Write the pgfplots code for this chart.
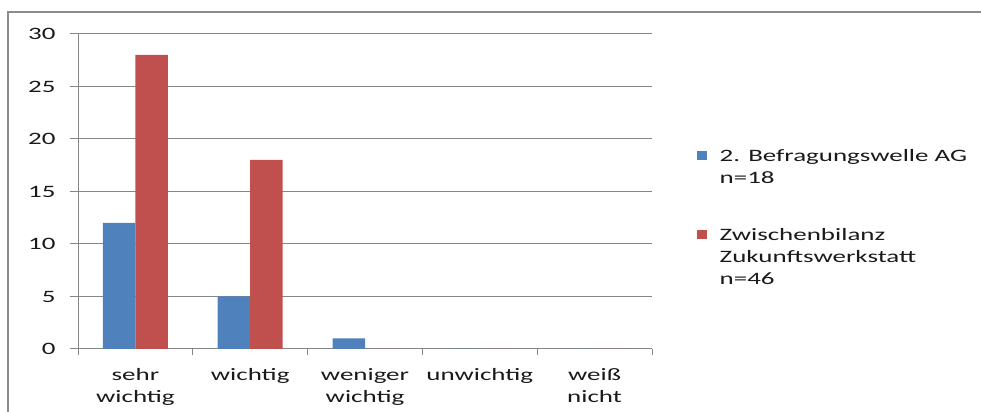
\documentclass[border=0pt]{standalone}
\usepackage{pgfplots}
\pgfplotsset{compat=1.18}
\usepackage{fontspec}
\setmainfont{Carlito}[FakeStretch=1.55]
\newcommand\chartfont{\fontsize{17.4bp}{22bp}\selectfont}
\definecolor{serieblue}{HTML}{4F81BD}
\definecolor{seriered}{HTML}{C0504D}
\definecolor{gridgray}{HTML}{868686}
\definecolor{framegray}{HTML}{8C8C8C}
\definecolor{textcol}{HTML}{1A1A1A}
\begin{document}
\begin{tikzpicture}
\useasboundingbox (0,0) rectangle (981bp,412bp);
% chart area frame (open to the right and bottom)
\draw[framegray, line width=2bp] (8.3bp,-5bp) -- (8.3bp,399.5bp) -- (990bp,399.5bp);
\begin{axis}[
  at={(78bp,63bp)}, anchor=south west,
  scale only axis, width=574bp, height=315bp,
  enlargelimits=false,
  ymin=0, ymax=30, ytick={0,5,...,30},
  xmin=-0.5, xmax=4.5,
  xtick={0,1,2,3,4},
  xticklabels={{sehr\\wichtig},wichtig,{weniger\\wichtig},unwichtig,{weiß\\nicht}},
  minor xtick={-0.5,0.5,...,4.5},
  axis lines*=left,
  axis line style={gridgray, line width=1bp},
  tick style={gridgray, line width=1bp},
  major x tick style={draw=none},
  tick align=outside,
  major tick length=8bp, minor tick length=6bp,
  ymajorgrids, grid style={gridgray, line width=1bp},
  /pgf/number format/assume math mode=true,
  ticklabel style={font=\chartfont, text=textcol},
  yticklabel style={xshift=-11bp},
  xticklabel style={align=center, yshift=-8bp},
  ybar=0pt, bar width=0.283,
  legend image code/.code={\fill[#1] (0bp,1bp) rectangle (9.5bp,10.5bp);},
  legend style={at={(1.0784,0.652)}, anchor=north west, draw=none, fill=none,
    inner sep=0pt, column sep=11bp, row sep=58bp, font=\chartfont,
    text=textcol, cells={anchor=base west}},
]
\addplot[fill=serieblue, draw=none] coordinates {(0,12) (1,5) (2,1) (3,0) (4,0)};
\addlegendentry{\begin{tabular}[t]{@{}l@{}}2. Befragungswelle AG\\n=18\end{tabular}}
\addplot[fill=seriered, draw=none] coordinates {(0,28) (1,18) (2,0) (3,0) (4,0)};
\addlegendentry{\begin{tabular}[t]{@{}l@{}}Zwischenbilanz\\Zukunftswerkstatt\\n=46\end{tabular}}
\end{axis}
\end{tikzpicture}
\end{document}
